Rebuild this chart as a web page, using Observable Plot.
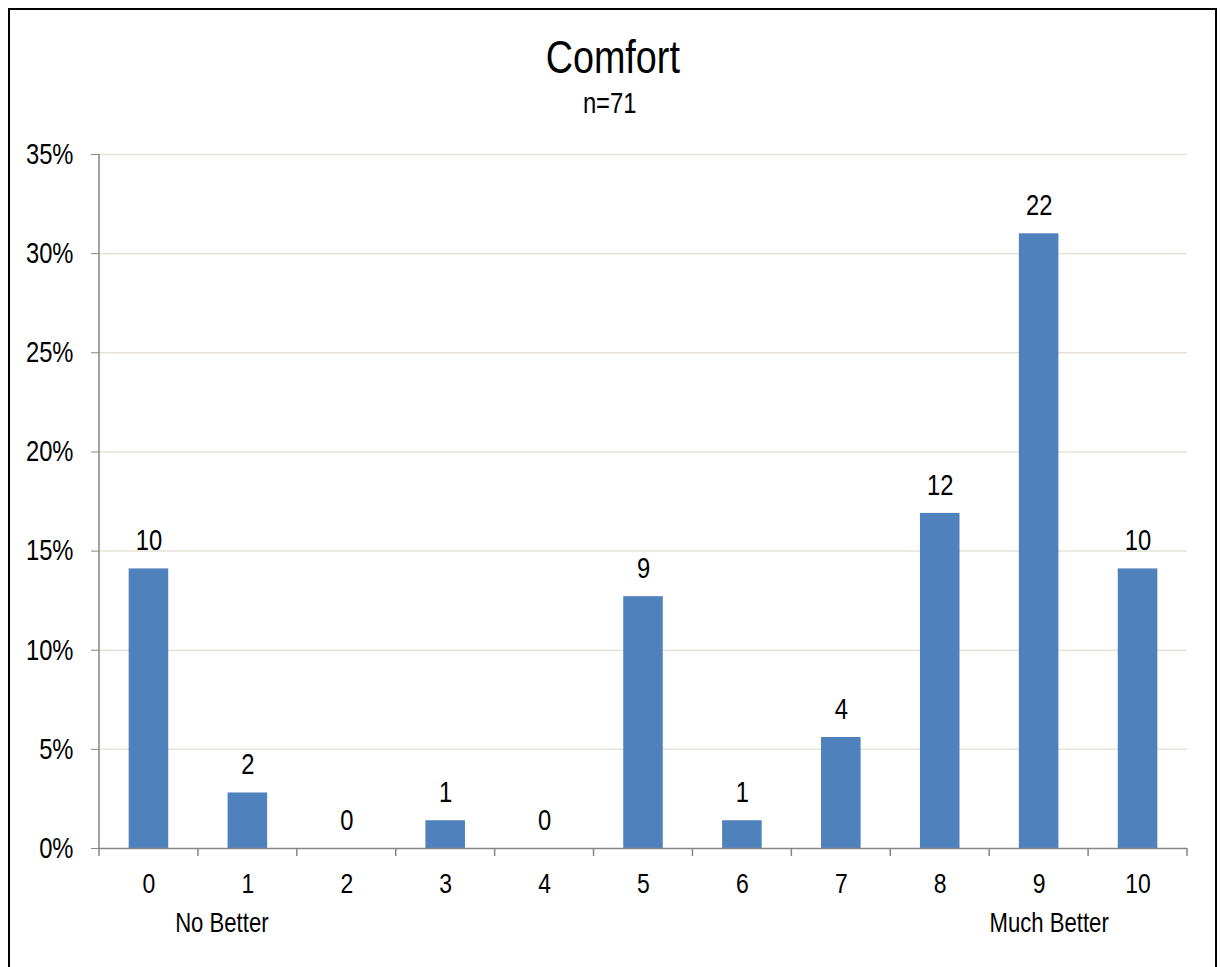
<!DOCTYPE html>
<html>
<head>
<meta charset="utf-8">
<script src="https://cdn.jsdelivr.net/npm/d3@7"></script>
<script src="https://cdn.jsdelivr.net/npm/@observablehq/plot@0.6"></script>
<style>
  body { margin: 0; background: #fff; }
  #wrap { position: relative; width: 1221px; height: 967px; overflow: hidden;
          font-family: "Liberation Sans", Arial, sans-serif; }
  #chart { position: absolute; left: 0; top: 0; }
  #frame { position: absolute; left: 8px; top: 8px; width: 1205px; height: 1000px;
           border: 2px solid #000; pointer-events: none; }
  .ttl { position: absolute; left: 0; width: 1224px; text-align: center; line-height: 1; color: #000; }
  .ttl span { display: inline-block; transform: scaleX(0.82); transform-origin: 50% 50%; }
  #title { top: 34px; font-size: 46px; left: 1px; }
  #subtitle { top: 89px; font-size: 29px; left: -2px; }
</style>
</head>
<body>
<div id="wrap">
  <div id="chart"></div>
  <div id="title" class="ttl"><span>Comfort</span></div>
  <div id="subtitle" class="ttl"><span>n=71</span></div>
  <div id="frame"></div>
</div>
<script>
const categories = ["0","1","2","3","4","5","6","7","8","9","10"];
const percents   = [14.1, 2.8, 0, 1.4, 0, 12.7, 1.4, 5.6, 16.9, 31.0, 14.1];
const counts     = [10, 2, 0, 1, 0, 9, 1, 4, 12, 22, 10];
const yTicks     = [0, 5, 10, 15, 20, 25, 30, 35];
const lowLabel   = [{cat: "1", text: "No Better"}];
const highLabel  = [{cat: "9", text: "Much Better"}];

const data = categories.map((c, i) => ({cat: c, pct: percents[i], n: counts[i]}));
const FONT = '"Liberation Sans", Arial, sans-serif';
const AXIS = "#868686";

// y axis line and category-boundary ticks, positioned from the band scale
function axisLines(index, scales, values, dimensions) {
  const x = scales.x;
  const bw = typeof x.bandwidth === "function" ? x.bandwidth() : x.bandwidth;
  const step = x(categories[1]) - x(categories[0]);
  const y0 = dimensions.height - dimensions.marginBottom;
  const g = d3.create("svg:g").attr("stroke", AXIS).attr("stroke-width", 1.5);
  const xl = dimensions.marginLeft;
  g.append("line").attr("x1", xl).attr("x2", xl).attr("y1", dimensions.marginTop).attr("y2", y0);
  const edges = categories.map(c => x(c) + bw / 2 - step / 2);
  edges.push(x(categories[categories.length - 1]) + bw / 2 + step / 2);
  for (const e of edges) {
    if (Number.isFinite(e)) g.append("line").attr("x1", e).attr("x2", e).attr("y1", y0).attr("y2", y0 + 8);
  }
  return g.node();
}

const plot = Plot.plot({
  width: 1221,
  height: 967,
  marginLeft: 99,
  marginRight: 34,
  marginTop: 154,
  marginBottom: 119,
  style: {fontFamily: FONT, fontSize: "28px", color: "#000", background: "transparent"},
  x: {domain: categories, paddingInner: 0.6, paddingOuter: 0.3, round: false},
  y: {domain: [0, 35]},
  marks: [
    Plot.gridY(yTicks.slice(1), {stroke: "#E6E3D6", strokeOpacity: 1, strokeWidth: 1.5}),
    Plot.barY(data, {x: "cat", y: "pct", fill: "#4F81BD"}),
    Plot.ruleY([0], {stroke: AXIS, strokeWidth: 1.5}),
    Plot.axisY({ticks: yTicks, tickFormat: d => d + "%", tickSize: 8, tickPadding: 18,
                stroke: AXIS, fill: "#000", fontSize: 29, label: null}),
    Plot.axisX({tickSize: 0, tickPadding: 25, fill: "#000", fontSize: 28, label: null}),
    axisLines,
    Plot.text(data, {x: "cat", y: "pct", text: d => String(d.n), dy: -28, fill: "#000", fontSize: 29}),
    Plot.text(lowLabel, {x: "cat", text: "text", dx: -26, frameAnchor: "bottom", lineAnchor: "middle", dy: 75, fill: "#000", fontSize: 27}),
    Plot.text(highLabel, {x: "cat", text: "text", dx: 10, frameAnchor: "bottom", lineAnchor: "middle", dy: 75, fill: "#000", fontSize: 27})
  ]
});

// emulate a narrow (Arial Narrow-like) face by compressing each text horizontally about its anchor
plot.querySelectorAll("text").forEach(t => {
  const tr = t.getAttribute("transform");
  if (tr) {
    t.setAttribute("transform", tr + " scale(0.82,1)");
  } else {
    const xa = +(t.getAttribute("x") || 0), ya = +(t.getAttribute("y") || 0);
    t.removeAttribute("x"); t.removeAttribute("y");
    t.setAttribute("transform", `translate(${xa},${ya}) scale(0.82,1)`);
  }
});
document.getElementById("chart").appendChild(plot);
</script>
</body>
</html>
